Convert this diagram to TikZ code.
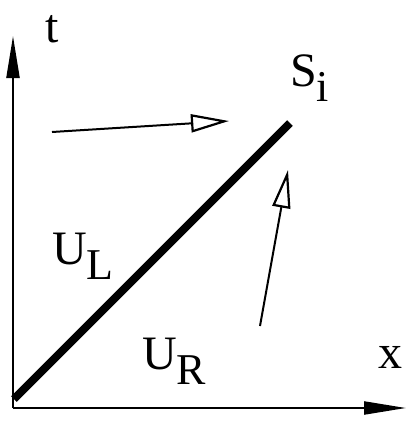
\documentclass[tikz,border=0pt]{standalone}
\usepackage{fontspec}
\setmainfont{Liberation Serif}
\usetikzlibrary{arrows.meta}
\newcommand{\bigtxt}{\fontsize{48}{48}\selectfont}
\newcommand{\subtxt}[1]{\raisebox{-0.32em}{\fontsize{44}{44}\selectfont #1}}
\begin{document}
\begin{tikzpicture}[x=1pt,y=-1pt,
  axis/.style={line width=2.2pt,-{Triangle[length=42pt,width=13pt]}},
  wave/.style={line width=2pt,-{Triangle[open,length=38pt,width=18pt,line width=2.2pt]}},
  shock/.style={line width=8pt},
  lab/.style={font=\bigtxt,inner sep=0pt}]
\useasboundingbox (0,0) rectangle (407,424);
\coordinate (O) at (13,408);
\coordinate (T) at (13,36);
\coordinate (X) at (406,408);
\draw[axis] (O) -- (T);
\draw[axis] (O) -- (X);
\coordinate (s0) at (14,399);
\coordinate (s1) at (290,123);
\draw[shock] (s0) -- (s1);
\coordinate (a0) at (52,132);
\coordinate (a1) at (229,121);
\draw[wave] (a0) -- (a1);
\coordinate (b0) at (260,326);
\coordinate (b1) at (288,170);
\draw[wave] (b0) -- (b1);
\node[lab,anchor=base west] (t) at (45,42) {t};
\node[lab,anchor=base west] (S) at (290,86) {S\subtxt{i}};
\node[lab,anchor=base west] (UL) at (52,264) {U\subtxt{L}};
\node[lab,anchor=base west] (UR) at (142,369) {U\subtxt{R}};
\node[lab,anchor=base west] (x) at (378,368) {x};
\end{tikzpicture}
\end{document}
